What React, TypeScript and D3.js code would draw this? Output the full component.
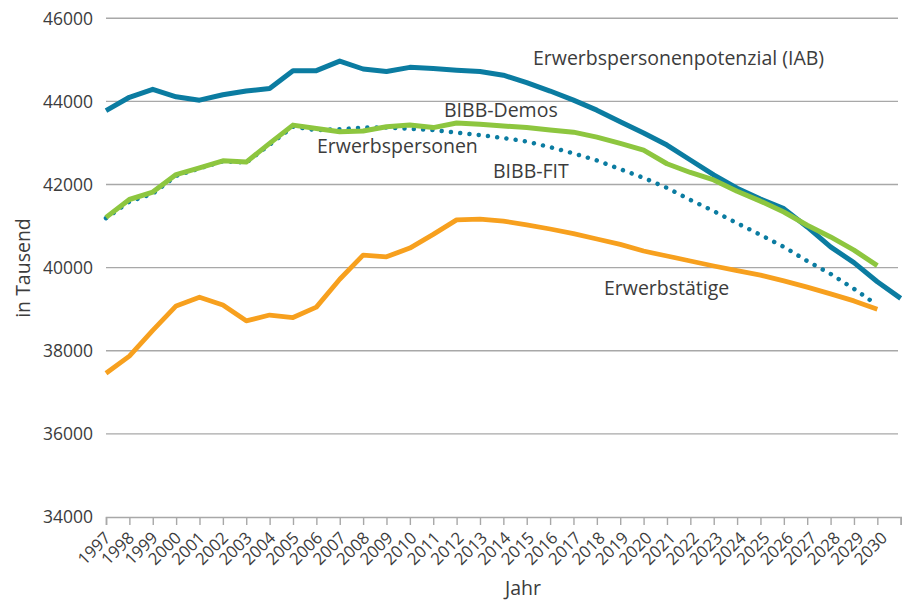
import React, { useEffect, useRef } from 'react';
import * as d3 from 'd3';

// x categories (tick labels)
const years = [
  1997, 1998, 1999, 2000, 2001, 2002, 2003, 2004, 2005, 2006, 2007, 2008,
  2009, 2010, 2011, 2012, 2013, 2014, 2015, 2016, 2017, 2018, 2019, 2020,
  2021, 2022, 2023, 2024, 2025, 2026, 2027, 2028, 2029, 2030,
];

// Erwerbspersonenpotenzial (IAB) - runs one step past the last label
const iab = [
  43780, 44100, 44290, 44110, 44030, 44160, 44250, 44310, 44740, 44740,
  44970, 44780, 44720, 44820, 44790, 44750, 44720, 44630, 44450, 44250,
  44030, 43790, 43510, 43240, 42950, 42590, 42230, 41910, 41650, 41420,
  40980, 40500, 40120, 39660, 39260,
];

// BIBB-Demos
const demos = [
  41210, 41640, 41820, 42240, 42400, 42570, 42540, 42990, 43430, 43350,
  43270, 43290, 43390, 43430, 43370, 43480, 43450, 43410, 43370, 43310,
  43260, 43140, 42990, 42830, 42500, 42290, 42110, 41840, 41600, 41340,
  41020, 40740, 40420, 40050,
];

// BIBB-FIT (dotted)
const fit = [
  41190, 41590, 41780, 42210, 42390, 42560, 42530, 42960, 43390, 43310,
  43330, 43370, 43370, 43340, 43310, 43250, 43190, 43120, 43035, 42900,
  42750, 42580, 42370, 42160, 41920, 41630, 41360, 41070, 40790, 40500,
  40160, 39850, 39490, 39100,
];

// Erwerbstätige
const erwerbstaetige = [
  37460, 37870, 38490, 39080, 39290, 39100, 38720, 38860, 38800, 39050,
  39720, 40300, 40260, 40470, 40800, 41150, 41170, 41120, 41030, 40930,
  40820, 40690, 40560, 40400, 40280, 40160, 40040, 39930, 39820, 39680,
  39530, 39370, 39200, 39000,
];

const yTicks = [34000, 36000, 38000, 40000, 42000, 44000, 46000];

const BLUE = '#0b7ca1';
const GREEN = '#8dc63f';
const ORANGE = '#f7a01e';
const GRID = '#a8a8a8';
const TEXT = '#3c3c3c';
const FONT = "'Open Sans', 'Noto Sans', sans-serif";

const App = () => {
  const svgRef = useRef(null);

  useEffect(() => {
    document.body.style.margin = '0';
    const width = 911;
    const height = 600;
    const left = 106;
    const right = 900.7;
    const top = 18.3;
    const bottom = 517;

    const svg = d3.select(svgRef.current)
      .attr('width', width)
      .attr('height', height);
    svg.selectAll('*').remove();

    // one tick per year plus one closing tick
    const x = d3.scaleLinear().domain([0, years.length]).range([left, right]);
    const y = d3.scaleLinear().domain([34000, 46000]).range([bottom, top]);

    // gridlines
    svg.append('g')
      .selectAll('line')
      .data(yTicks.slice(1))
      .enter()
      .append('line')
      .attr('x1', left)
      .attr('x2', 898)
      .attr('y1', d => y(d))
      .attr('y2', d => y(d))
      .attr('stroke', GRID)
      .attr('stroke-width', 1.4);

    // y tick labels
    svg.append('g')
      .selectAll('text')
      .data(yTicks)
      .enter()
      .append('text')
      .attr('x', 93)
      .attr('y', d => y(d))
      .attr('dy', '0.36em')
      .attr('text-anchor', 'end')
      .attr('font-family', FONT)
      .attr('font-size', 17.5)
      .attr('fill', TEXT)
      .text(d => d);

    // x axis
    const xAxis = d3.axisBottom(x)
      .tickValues(d3.range(years.length + 1))
      .tickSize(8)
      .tickFormat(() => '');
    const gx = svg.append('g')
      .attr('transform', `translate(0,${bottom})`)
      .call(xAxis);
    gx.select('.domain').attr('stroke', GRID).attr('stroke-width', 1.6);
    gx.selectAll('.tick line').attr('stroke', GRID).attr('stroke-width', 1.4);

    svg.append('g')
      .selectAll('text')
      .data(years)
      .enter()
      .append('text')
      .attr('transform', (d, i) => `translate(${x(i) + 5.7 + i * 0.16},539) rotate(-45)`)
      .attr('text-anchor', 'end')
      .attr('font-family', FONT)
      .attr('font-size', 16.7)
      .attr('fill', TEXT)
      .text(d => d);

    // axis titles
    svg.append('text')
      .attr('x', 523)
      .attr('y', 595)
      .attr('text-anchor', 'middle')
      .attr('font-family', FONT)
      .attr('font-size', 19.5)
      .attr('fill', TEXT)
      .text('Jahr');

    svg.append('text')
      .attr('transform', 'translate(29.5,268) rotate(-90)')
      .attr('text-anchor', 'middle')
      .attr('font-family', FONT)
      .attr('font-size', 19.5)
      .attr('fill', TEXT)
      .text('in Tausend');

    const line = d3.line()
      .x((d, i) => x(i))
      .y(d => y(d));

    // series
    svg.append('path')
      .attr('d', line(fit))
      .attr('fill', 'none')
      .attr('stroke', BLUE)
      .attr('stroke-width', 4.5)
      .attr('stroke-linecap', 'round')
      .attr('stroke-dasharray', '0.01 9.3');

    svg.append('path')
      .attr('d', line(erwerbstaetige))
      .attr('fill', 'none')
      .attr('stroke', ORANGE)
      .attr('stroke-width', 4.8)
      .attr('stroke-linejoin', 'round');

    svg.append('path')
      .attr('d', line(iab))
      .attr('fill', 'none')
      .attr('stroke', BLUE)
      .attr('stroke-width', 5)
      .attr('stroke-linejoin', 'round');

    svg.append('path')
      .attr('d', line(demos))
      .attr('fill', 'none')
      .attr('stroke', GREEN)
      .attr('stroke-width', 5)
      .attr('stroke-linejoin', 'round');

    // series labels
    const labels = [
      { text: 'Erwerbspersonenpotenzial (IAB)', x: 533, y: 65 },
      { text: 'BIBB-Demos', x: 444, y: 117 },
      { text: 'Erwerbspersonen', x: 317, y: 153 },
      { text: 'BIBB-FIT', x: 493, y: 178 },
      { text: 'Erwerbstätige', x: 604, y: 295 },
    ];
    svg.append('g')
      .selectAll('text')
      .data(labels)
      .enter()
      .append('text')
      .attr('x', d => d.x)
      .attr('y', d => d.y)
      .attr('font-family', FONT)
      .attr('font-size', 19.5)
      .attr('fill', TEXT)
      .text(d => d.text);
  }, []);

  return (
    <svg ref={svgRef} style={{ display: 'block' }}></svg>
  );
};

export default App;
